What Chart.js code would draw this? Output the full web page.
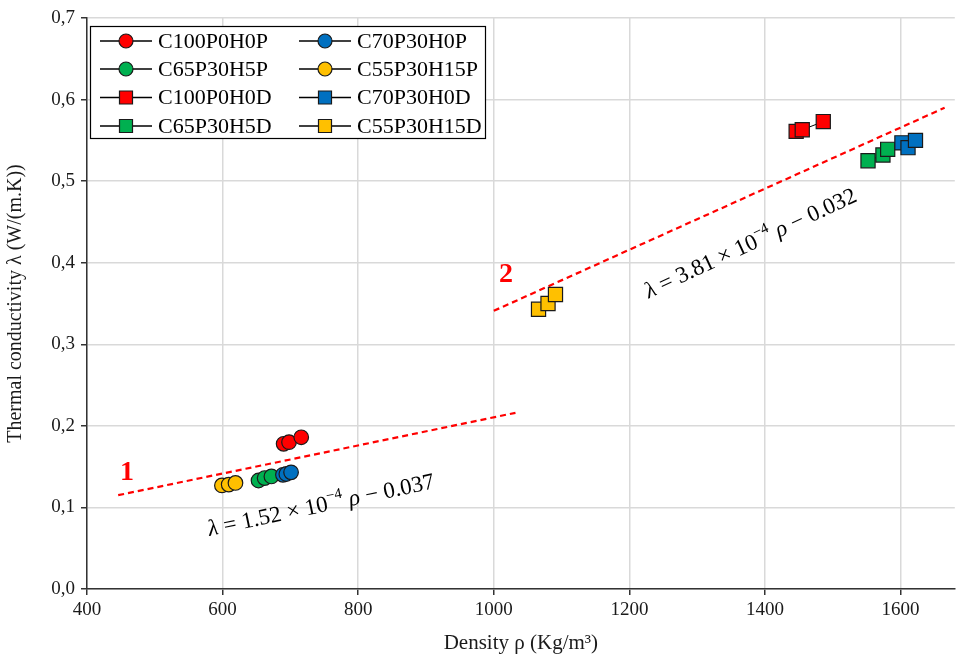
<!DOCTYPE html>
<html>
<head>
<meta charset="utf-8">
<script src="https://cdn.jsdelivr.net/npm/chart.js@4.4.1/dist/chart.umd.min.js"></script>
<style>
  html, body { margin: 0; padding: 0; background: #fff; overflow: hidden; }
  #wrap { width: 966px; height: 660px; position: relative; }
</style>
</head>
<body>
<div id="wrap"><canvas id="chart"></canvas></div>
<script>
'use strict';

// density (kg/m3) and thermal conductivity (W/(m.K)) per mix
const seriesNames = ['C100P0H0P', 'C70P30H0P', 'C65P30H5P', 'C55P30H15P',
                     'C100P0H0D', 'C70P30H0D', 'C65P30H5D', 'C55P30H15D'];

const rhoC100P = [690, 698, 716];
const lamC100P = [0.178, 0.180, 0.186];
const rhoC70P = [689, 694, 701];
const lamC70P = [0.140, 0.141, 0.143];
const rhoC65P = [653, 662, 672];
const lamC65P = [0.133, 0.136, 0.138];
const rhoC55P = [599, 609, 619];
const lamC55P = [0.127, 0.128, 0.130];

const rhoC100D = [1446, 1455, 1486];
const lamC100D = [0.561, 0.563, 0.573];
const rhoC70D = [1602, 1611, 1622];
const lamC70D = [0.547, 0.541, 0.550];
const rhoC65D = [1552, 1574, 1581];
const lamC65D = [0.525, 0.532, 0.539];
const rhoC55D = [1066, 1080, 1091];
const lamC55D = [0.343, 0.350, 0.361];

// fitted lines as drawn (end points)
const fit1Rho = [446, 1032];
const fit1Lam = [0.115, 0.216];
const fit2Rho = [1000, 1665];
const fit2Lam = [0.341, 0.590];

const yTicks = [0, 0.1, 0.2, 0.3, 0.4, 0.5, 0.6, 0.7];

const colors = ['#ff0000', '#0070c0', '#00b050', '#ffc000',
                '#ff0000', '#0070c0', '#00b050', '#ffc000'];
const allRho = [rhoC100P, rhoC70P, rhoC65P, rhoC55P, rhoC100D, rhoC70D, rhoC65D, rhoC55D];
const allLam = [lamC100P, lamC70P, lamC65P, lamC55P, lamC100D, lamC70D, lamC65D, lamC55D];

const pts = (xs, ys) => xs.map((x, i) => ({ x, y: ys[i] }));

const serif = '"Liberation Serif", "DejaVu Serif", serif';

const datasets = [];
// fit lines drawn under the markers
datasets.push({
  label: 'fit1', data: pts(fit1Rho, fit1Lam), showLine: true,
  borderColor: '#ff0000', borderWidth: 2.2, borderDash: [6, 4], pointRadius: 0, order: 10,
});
datasets.push({
  label: 'fit2', data: pts(fit2Rho, fit2Lam), showLine: true,
  borderColor: '#ff0000', borderWidth: 2.2, borderDash: [6, 4], pointRadius: 0, order: 10,
});
seriesNames.forEach((name, i) => {
  const isSquare = i >= 4;
  datasets.push({
    label: name,
    data: pts(allRho[i], allLam[i]),
    showLine: true,
    borderColor: '#000',
    borderWidth: 1,
    pointStyle: isSquare ? 'rect' : 'circle',
    pointRadius: isSquare ? 10 : 7.3,
    pointBackgroundColor: colors[i],
    pointBorderColor: '#1a1a1a',
    pointBorderWidth: 1.2,
    order: 1,
  });
});

// legend box inside the plot
const boxLegend = {
  id: 'boxLegend',
  afterDraw(chart) {
    const ctx = chart.ctx;
    const x0 = 90, y0 = 26, w = 395, h = 112;
    ctx.save();
    ctx.fillStyle = '#fff';
    ctx.fillRect(x0, y0, w, h);
    ctx.strokeStyle = '#000';
    ctx.lineWidth = 1.2;
    ctx.strokeRect(x0 + 0.5, y0 + 0.5, w, h);
    const rows = [41, 69, 97.5, 126];
    const cols = [100, 299];
    seriesNames.forEach((name, i) => {
      const cx = cols[i % 2];
      const cy = rows[Math.floor(i / 2)];
      ctx.strokeStyle = '#000';
      ctx.lineWidth = 1.3;
      ctx.beginPath();
      ctx.moveTo(cx, cy);
      ctx.lineTo(cx + 52, cy);
      ctx.stroke();
      ctx.fillStyle = colors[i];
      ctx.strokeStyle = '#1a1a1a';
      ctx.lineWidth = 1.2;
      ctx.beginPath();
      if (i >= 4) {
        ctx.rect(cx + 26 - 6.5, cy - 6.5, 13, 13);
      } else {
        ctx.arc(cx + 26, cy, 7, 0, Math.PI * 2);
      }
      ctx.fill();
      ctx.stroke();
      ctx.fillStyle = '#000';
      ctx.font = '22px ' + serif;
      ctx.textBaseline = 'middle';
      ctx.textAlign = 'left';
      ctx.fillText(name, cx + 58, cy + 1);
    });
    ctx.restore();
  },
};

function drawEquation(ctx, x, y, angle, coef, icpt) {
  const parts = [
    { t: 'λ', it: true }, { t: ' = ' + coef + ' × 10' }, { t: '−4', sup: true },
    { t: ' ' }, { t: 'ρ', it: true }, { t: ' − ' + icpt },
  ];
  const fontFor = (p) => (p.it ? 'italic ' : '') + (p.sup ? '15px ' : '23px ') + serif;
  let total = 0;
  parts.forEach(p => { ctx.font = fontFor(p); total += ctx.measureText(p.t).width; });
  ctx.save();
  ctx.translate(x, y);
  ctx.rotate(angle * Math.PI / 180);
  ctx.fillStyle = '#000';
  ctx.textBaseline = 'alphabetic';
  let cx = -total / 2;
  parts.forEach(p => {
    ctx.font = fontFor(p);
    ctx.fillText(p.t, cx, p.sup ? -2 : 8);
    cx += ctx.measureText(p.t).width;
  });
  ctx.restore();
}

const notes = {
  id: 'notes',
  afterDatasetsDraw(chart) {
    const { ctx, scales: { x, y } } = chart;
    ctx.save();
    ctx.fillStyle = '#ff0000';
    ctx.font = 'bold 28px ' + serif;
    ctx.textAlign = 'center';
    ctx.textBaseline = 'middle';
    ctx.fillText('1', x.getPixelForValue(459), y.getPixelForValue(0.142));
    ctx.fillText('2', x.getPixelForValue(1018), y.getPixelForValue(0.385));
    ctx.restore();
    drawEquation(ctx, x.getPixelForValue(745), y.getPixelForValue(0.104), -12, '1.52', '0.037');
    drawEquation(ctx, x.getPixelForValue(1378), y.getPixelForValue(0.425), -25, '3.81', '0.032');
  },
};

new Chart(document.getElementById('chart'), {
  type: 'scatter',
  data: { datasets },
  options: {
    responsive: true,
    maintainAspectRatio: false,
    animation: false,
    layout: { padding: { left: 0, right: 0, top: 18, bottom: 0 } },
    plugins: { legend: { display: false }, tooltip: { enabled: false } },
    scales: {
      x: {
        type: 'linear',
        min: 400,
        max: 1680,
        afterFit: (s) => { s.height = 71; s.paddingRight = 0; s.paddingLeft = 0; },
        ticks: {
          stepSize: 200,
          includeBounds: false,
          color: '#1a1a1a',
          font: { family: serif, size: 19 },
          padding: 4,
          callback: (v) => String(v),
        },
        grid: { color: '#d9d9d9', lineWidth: 1.5, tickColor: '#333', tickLength: 6 },
        border: { color: '#333', width: 1.5 },
        title: {
          display: true,
          text: 'Density ρ (Kg/m³)',
          color: '#1a1a1a',
          font: { family: serif, size: 21 },
          padding: { top: 0 },
        },
      },
      y: {
        min: 0,
        max: 0.7,
        afterFit: (s) => { s.width = 87; s.paddingTop = 0; s.paddingBottom = 0; },
        afterBuildTicks: (s) => { s.ticks = yTicks.map(v => ({ value: v })); },
        ticks: {
          color: '#1a1a1a',
          font: { family: serif, size: 19 },
          padding: 6,
          callback: (v) => v.toFixed(1).replace('.', ','),
        },
        grid: { color: '#d9d9d9', lineWidth: 1.5, tickColor: '#333', tickLength: 6 },
        border: { color: '#333', width: 1.5 },
        title: {
          display: true,
          text: 'Thermal conductivity λ (W/(m.K))',
          color: '#1a1a1a',
          font: { family: serif, size: 20 },
          padding: { bottom: 0 },
        },
      },
    },
  },
  plugins: [boxLegend, notes],
});
</script>
</body>
</html>
